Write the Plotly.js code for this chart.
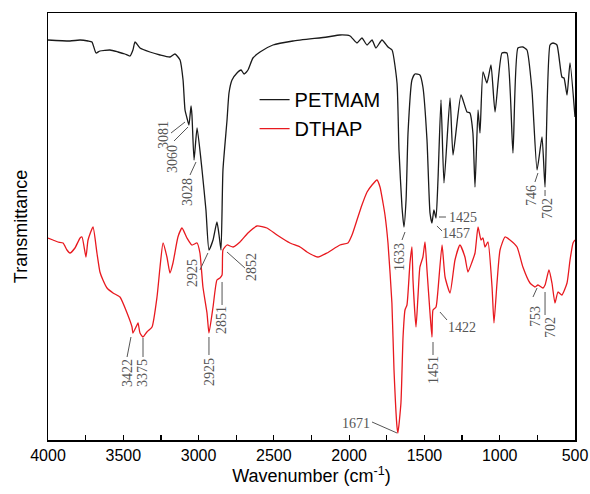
<!DOCTYPE html>
<html>
<head>
<meta charset="utf-8">
<script src="https://cdn.plot.ly/plotly-3.0.1.min.js"></script>
<style>html,body{margin:0;padding:0;background:#fff;}#chart{width:590px;height:494px;}</style>
</head>
<body>
<div id="chart"></div>
<script>
// PETMAM spectrum (wavenumber, transmittance a.u.)
const petmamWave = [4000,3854,3787,3734,3708,3681,3655,3588,3535,3489,3455,3436,3422,3389,3323,3256,3190,3157,3123,3103,3090,3077,3064,3050,3044,3030,3010,2977,2951,2931,2904,2878,2864,2851,2838,2811,2798,2778,2745,2718,2698,2672,2639,2592,2506,2373,2147,2061,1994,1948,1915,1881,1848,1822,1782,1742,1715,1682,1669,1649,1636,1622,1609,1583,1563,1530,1510,1483,1463,1450,1437,1423,1410,1390,1370,1330,1310,1257,1217,1198,1178,1164,1144,1131,1111,1085,1058,1031,985,952,912,879,846,819,786,752,719,699,666,646,620,587,573,553,533,500];
const petmamT    = [400,399,400,399,398,387,389,390,388,386,384,390,398,392,388,385,383,386,380,360,330,322,315,334,325,280,312,270,230,190,200,218,205,190,270,320,347,360,367,370,366,370,382,388,395,399,403,405,404,397,402,395,400,392,400,393,390,357,290,233,213,240,307,360,366,365,353,300,227,217,230,222,260,340,257,342,285,345,328,327,307,253,330,307,368,357,375,328,387,387,287,392,393,390,350,270,303,253,395,397,395,363,362,345,377,323];
// DTHAP spectrum
const dthapWave = [4000,3967,3934,3900,3874,3854,3821,3787,3774,3748,3734,3701,3675,3655,3635,3608,3568,3522,3475,3442,3436,3409,3402,3389,3369,3343,3309,3276,3256,3236,3210,3190,3170,3137,3110,3077,3044,3010,2991,2971,2944,2931,2904,2878,2858,2844,2838,2811,2771,2725,2672,2612,2546,2479,2393,2326,2280,2207,2147,2061,2008,1981,1948,1915,1881,1848,1815,1795,1775,1762,1742,1716,1702,1682,1676,1656,1642,1629,1616,1596,1583,1576,1556,1543,1530,1510,1496,1483,1463,1450,1443,1423,1410,1383,1363,1330,1297,1264,1231,1211,1184,1164,1144,1124,1111,1098,1078,1051,1038,1018,998,965,932,885,846,799,766,746,713,699,673,653,633,613,587,553,533,513,500];
const dthapT    = [202,200,198,197,190,187,192,202,203,183,200,213,187,168,160,152,147,143,127,113,107,115,117,107,103,108,113,143,173,197,183,167,177,203,212,202,195,197,187,153,127,107,133,160,162,165,190,195,193,198,207,214,212,205,197,193,188,183,187,195,197,205,220,235,248,255,260,253,237,225,197,137,70,13,7,37,103,130,135,177,193,160,113,143,173,183,198,170,127,103,130,133,150,195,163,147,180,195,183,168,178,187,213,200,202,193,198,153,117,157,190,203,200,193,173,157,153,155,152,155,170,157,137,148,145,157,180,197,200];

const seriesNames = ['PETMAM', 'DTHAP'];
const xTickVals = [4000,3500,3000,2500,2000,1500,1000,500];

// Peak labels: text, x, y, angle
const peakLabels = [
  ['3081',3236,305,-90],['3060',3176,281,-90],['3028',3077,248,-90],['2925',3044,167,-90],
  ['2852',2652,173,-90],['1633',1669,183,-90],['1457',1290,207,0],['1425',1245,223,0],
  ['746',792,244,-90],['702',686,232,-90],
  ['3422',3475,67,-90],['3375',3376,67,-90],['2925',2931,68,-90],['2851',2851,120,-90],
  ['1451',1443,70,-90],['1422',1251,113,0],['1671',1955,17,0],['753',766,124,-90],['702',666,112,-90]
];
// Leader lines: x0,y0,x1,y1
const leaders = [
  [3183,307,3090,318],[3163,299,3070,313],[3057,265,3017,278],[2991,170,2938,187],
  [2811,188,2692,172],[1649,200,1629,208],[1417,214,1383,209],[1403,223,1357,223],
  [766,258,746,267],[699,250,699,244],
  [3449,103,3475,83],[3369,102,3369,83],[2931,103,2931,85],[2844,158,2844,135],
  [1443,98,1443,85],[1397,128,1350,120],[1848,18,1682,7],[779,143,752,152],[699,148,699,125]
];

const traces = [
  {x: petmamWave, y: petmamT, name: seriesNames[0], type: 'scatter', mode: 'lines',
   line: {color: '#1a1a1a', width: 1.3, shape: 'spline', smoothing: 0.5}},
  {x: dthapWave, y: dthapT, name: seriesNames[1], type: 'scatter', mode: 'lines',
   line: {color: '#e8191f', width: 1.3, shape: 'spline', smoothing: 0.5}}
];

const annotations = peakLabels.map(p => ({
  x: p[1], y: p[2], xref: 'x', yref: 'y', text: p[0], showarrow: false,
  textangle: p[3], font: {family: 'Liberation Serif, serif', size: 14, color: '#555'}
}));
const shapes = leaders.map(l => ({
  type: 'line', xref: 'x', yref: 'y', x0: l[0], y0: l[1], x1: l[2], y1: l[3],
  line: {color: '#555', width: 1}
}));

const layout = {
  width: 590, height: 494,
  margin: {l: 48, r: 15, t: 13, b: 54},
  paper_bgcolor: '#fff', plot_bgcolor: '#fff',
  font: {family: 'Liberation Sans, Arial, sans-serif', color: '#000'},
  showlegend: true,
  legend: {x: 0.392, y: 0.843, xanchor: 'left', yanchor: 'top', bgcolor: 'rgba(0,0,0,0)',
           font: {size: 20, color: '#000'}, tracegroupgap: 0},
  xaxis: {
    range: [4000, 500], autorange: false, tickvals: xTickVals,
    ticks: 'inside', ticklen: 5, tickwidth: 1.2, tickcolor: '#000',
    minor: {dtick: 250, tick0: 0, ticks: 'inside', ticklen: 5, tickwidth: 1.2, tickcolor: '#000'},
    showline: true, linecolor: '#000', linewidth: 1.5, mirror: true,
    showgrid: false, zeroline: false,
    tickfont: {size: 16, color: '#000'},
    title: {text: 'Wavenumber (cm<sup>-1</sup>)', font: {size: 18, color: '#000'}, standoff: 4}
  },
  yaxis: {
    range: [0, 427], autorange: false, showticklabels: false, ticks: '',
    showline: true, linecolor: '#000', linewidth: 1.5, mirror: true,
    showgrid: false, zeroline: false,
    title: {text: 'Transmittance', font: {size: 18, color: '#000'}, standoff: 14}
  },
  annotations: annotations,
  shapes: shapes
};

Plotly.newPlot('chart', traces, layout, {displayModeBar: false, staticPlot: true});
</script>
</body>
</html>
